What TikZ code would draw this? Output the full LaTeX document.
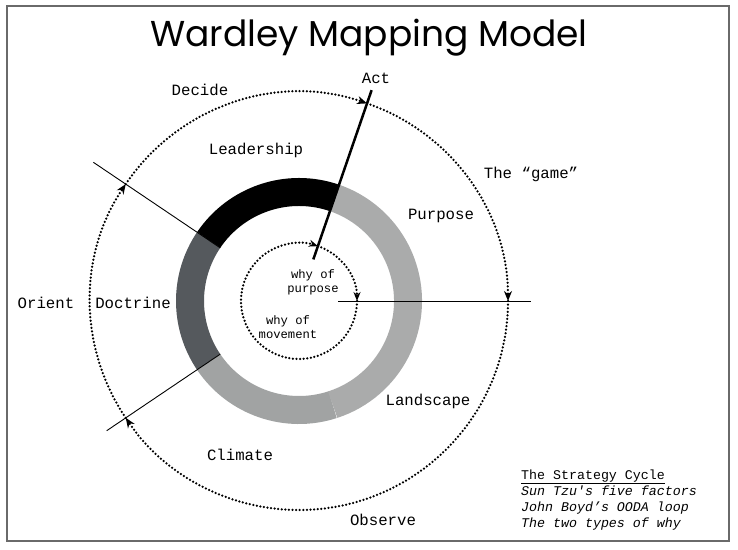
\documentclass[tikz,border=0pt]{standalone}
\usepackage{fontspec}
\usetikzlibrary{arrows.meta,positioning}
\newfontfamily\labelfont{Liberation Mono}
\newfontfamily\titlefont{Poppins}
\definecolor{doctrinegray}{HTML}{55595D}
\definecolor{climategray}{HTML}{A1A3A3}
\definecolor{purposegray}{HTML}{AAABAB}
\definecolor{framegray}{HTML}{6A6A6A}

\begin{document}
\begin{tikzpicture}[x=1pt, y=1pt,
    lbl/.style={font=\labelfont\fontsize{15.7}{18}\selectfont, inner sep=0pt},
    why/.style={font=\labelfont\fontsize{12.2}{14}\selectfont, align=center, inner sep=0pt},
    legend/.style={font=\labelfont\fontsize{13.3}{16}\selectfont, anchor=base west, inner sep=0pt},
    ring/.style={line width=28pt},
    dots/.style={line width=2.5pt, dash pattern=on 0pt off 3.6pt, line cap=round},
    tip/.style={-{Stealth[length=10pt,width=8pt]}},
    smalltip/.style={-{Stealth[length=9pt,width=7pt]}},
    spoke/.style={line width=0.9pt}]
  \useasboundingbox (0,0) rectangle (738,549);
  \draw[framegray, line width=1.5pt] (7,8) rectangle (729,543);
  \node[font=\titlefont\fontsize{36}{40}\selectfont, anchor=base, inner sep=0pt] (title) at (369,502) {Wardley Mapping Model};

  \begin{scope}[shift={(299,248)}]
    \foreach \a/\b/\c in {71/146/black, 146/214/doctrinegray, 214/288/climategray, 288/431/purposegray}
      \draw[ring, \c] (\a:109pt) arc[start angle=\a, end angle=\b, radius=109pt];

    \coordinate (actin) at (71:44pt);
    \coordinate (actout) at (71:223pt);
    \coordinate (gamein) at (0:39pt);
    \coordinate (gameout) at (0:232pt);
    \coordinate (decin) at (146:95pt);
    \coordinate (decout) at (146:248pt);
    \coordinate (obsin) at (214:95pt);
    \coordinate (obsout) at (214:232pt);
    \draw[line width=2.5pt] (actin) -- (actout);
    \draw[spoke] (gamein) -- (gameout);
    \draw[spoke] (decin) -- (decout);
    \draw[spoke] (obsin) -- (obsout);

    \coordinate (o146) at (146:209pt);
    \coordinate (o71) at (71:209pt);
    \coordinate (o0) at (0:209pt);
    \coordinate (o214) at (214:209pt);
    \draw[dots, tip] (o146) arc[start angle=146, end angle=71, radius=209pt];
    \draw[dots, tip] (o71) arc[start angle=71, end angle=0, radius=209pt];
    \draw[dots, tip] (o0) arc[start angle=360, end angle=214, radius=209pt];
    \draw[dots, tip] (o214) arc[start angle=214, end angle=146, radius=209pt];

    \coordinate (i71) at (71:58pt);
    \coordinate (i0) at (0:58pt);
    \draw[dots, smalltip] (i71) arc[start angle=71, end angle=0, radius=58pt];
    \draw[dots, smalltip] (i0) arc[start angle=0, end angle=-289, radius=58pt];
  \end{scope}

  \node[lbl] (decide) at (200,459) {Decide};
  \node[lbl] (act) at (376,471) {Act};
  \node[lbl] (leadership) at (256,399) {Leadership};
  \node[lbl] (game) at (531,375) {The “game”};
  \node[lbl] (purpose) at (441,333) {Purpose};
  \node[lbl] (orient) at (46,246) {Orient};
  \node[lbl] (doctrine) at (133,246) {Doctrine};
  \node[why] (whypurpose) at (313,267) {why of\\purpose};
  \node[why] (whymovement) at (288,222) {why of\\movement};
  \node[lbl] (landscape) at (428,148) {Landscape};
  \node[lbl] (climate) at (240,94) {Climate};
  \node[lbl] (observe) at (383,29) {Observe};

  \node[legend] (cycle) at (521,70) {\underline{The Strategy Cycle}};
  \node[legend] (suntzu) at (521,54) {\textit{Sun Tzu's five factors}};
  \node[legend] (boyd) at (521,38) {\textit{John Boyd’s OODA loop}};
  \node[legend] (twowhy) at (521,22) {\textit{The two types of why}};
\end{tikzpicture}
\end{document}
